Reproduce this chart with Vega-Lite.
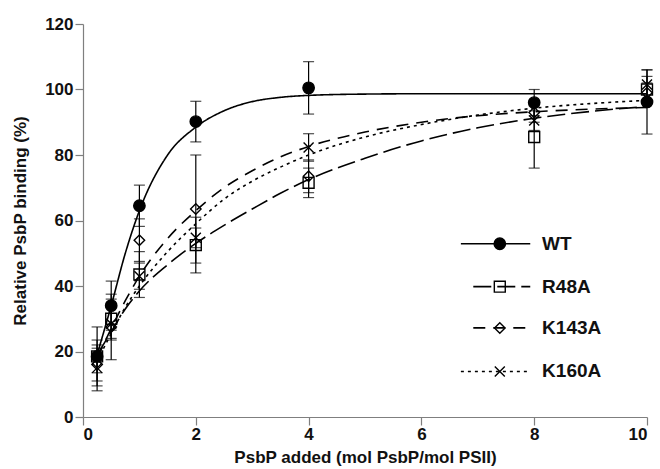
{
  "$schema": "https://vega.github.io/schema/vega-lite/v6.json",
  "width": 564,
  "height": 393,
  "autosize": "none",
  "padding": {"left": 83, "top": 24, "right": 13, "bottom": 52},
  "background": "white",
  "config": {
    "view": {"stroke": null},
    "font": "Liberation Sans",
    "axis": {
      "grid": false,
      "domainColor": "#7f7f7f",
      "tickColor": "#7f7f7f",
      "domainWidth": 1.2,
      "tickWidth": 1.2,
      "tickSize": 8,
      "labelFont": "Liberation Sans",
      "labelFontWeight": "bold",
      "labelFontSize": 17,
      "labelColor": "#111",
      "titleFont": "Liberation Sans",
      "titleFontWeight": "bold",
      "titleFontSize": 17,
      "titleColor": "#111"
    }
  },
  "datasets": {
    "points": [
      {"series": "WT", "x": 0.25, "y": 18.5, "lo": 9.5, "hi": 27.5},
      {"series": "R48A", "x": 0.25, "y": 18.5, "lo": 13.5, "hi": 23.5},
      {"series": "K143A", "x": 0.25, "y": 16, "lo": 11, "hi": 21},
      {"series": "K160A", "x": 0.25, "y": 15, "lo": 8, "hi": 22},
      {"series": "WT", "x": 0.5, "y": 34, "lo": 26.5, "hi": 41.5},
      {"series": "R48A", "x": 0.5, "y": 30, "lo": 24, "hi": 36},
      {"series": "K143A", "x": 0.5, "y": 27.5, "lo": 17.5, "hi": 37.5},
      {"series": "K160A", "x": 0.5, "y": 28.5, "lo": 23.5, "hi": 33.5},
      {"series": "WT", "x": 1, "y": 64.5, "lo": 58.2, "hi": 70.8},
      {"series": "R48A", "x": 1, "y": 43.5, "lo": 36.5, "hi": 50.5},
      {"series": "K143A", "x": 1, "y": 54, "lo": 47.5, "hi": 60.5},
      {"series": "K160A", "x": 1, "y": 43, "lo": 39, "hi": 47},
      {"series": "WT", "x": 2, "y": 90.2, "lo": 84, "hi": 96.4},
      {"series": "R48A", "x": 2, "y": 52.5, "lo": 44, "hi": 61},
      {"series": "K143A", "x": 2, "y": 63.5, "lo": 47, "hi": 80},
      {"series": "K160A", "x": 2, "y": 54.7, "lo": 51.7, "hi": 57.7},
      {"series": "WT", "x": 4, "y": 100.5, "lo": 92.5, "hi": 108.5},
      {"series": "R48A", "x": 4, "y": 71.5, "lo": 67, "hi": 76},
      {"series": "K143A", "x": 4, "y": 73.5, "lo": 68.5, "hi": 78.5},
      {"series": "K160A", "x": 4, "y": 82.3, "lo": 78.1, "hi": 86.5},
      {"series": "WT", "x": 8, "y": 96, "lo": 92, "hi": 100},
      {"series": "R48A", "x": 8, "y": 85.5, "lo": 76, "hi": 95},
      {"series": "K143A", "x": 8, "y": 93, "lo": 90, "hi": 96},
      {"series": "K160A", "x": 8, "y": 90.5, "lo": 87.5, "hi": 93.5},
      {"series": "WT", "x": 10, "y": 96.2, "lo": 86.4, "hi": 106},
      {"series": "R48A", "x": 10, "y": 100, "lo": 96, "hi": 104},
      {"series": "K143A", "x": 10, "y": 99, "lo": 96, "hi": 102},
      {"series": "K160A", "x": 10, "y": 101.5, "lo": 97, "hi": 106}
    ],
    "curves": [
      {"series": "WT", "x": 0.25, "y": 19},
      {"series": "WT", "x": 0.5, "y": 34},
      {"series": "WT", "x": 0.75, "y": 50},
      {"series": "WT", "x": 1, "y": 63},
      {"series": "WT", "x": 1.5, "y": 80},
      {"series": "WT", "x": 2, "y": 88.5},
      {"series": "WT", "x": 2.5, "y": 93.5},
      {"series": "WT", "x": 3, "y": 96.3},
      {"series": "WT", "x": 3.5, "y": 97.6},
      {"series": "WT", "x": 4, "y": 98.2},
      {"series": "WT", "x": 5, "y": 98.6},
      {"series": "WT", "x": 6, "y": 98.7},
      {"series": "WT", "x": 10, "y": 98.7},
      {"series": "R48A", "x": 0.25, "y": 19},
      {"series": "R48A", "x": 0.5, "y": 26},
      {"series": "R48A", "x": 0.75, "y": 33},
      {"series": "R48A", "x": 1, "y": 38.5},
      {"series": "R48A", "x": 1.5, "y": 46.5},
      {"series": "R48A", "x": 2, "y": 53},
      {"series": "R48A", "x": 2.5, "y": 58.5},
      {"series": "R48A", "x": 3, "y": 63.5},
      {"series": "R48A", "x": 3.5, "y": 68.3},
      {"series": "R48A", "x": 4, "y": 72.5},
      {"series": "R48A", "x": 5, "y": 79},
      {"series": "R48A", "x": 6, "y": 84.3},
      {"series": "R48A", "x": 7, "y": 88.3},
      {"series": "R48A", "x": 8, "y": 91.2},
      {"series": "R48A", "x": 9, "y": 93.3},
      {"series": "R48A", "x": 10, "y": 94.8},
      {"series": "K143A", "x": 0.25, "y": 18},
      {"series": "K143A", "x": 0.5, "y": 27},
      {"series": "K143A", "x": 0.75, "y": 35.5},
      {"series": "K143A", "x": 1, "y": 43},
      {"series": "K143A", "x": 1.5, "y": 54.5},
      {"series": "K143A", "x": 2, "y": 63},
      {"series": "K143A", "x": 2.5, "y": 70},
      {"series": "K143A", "x": 3, "y": 75.2},
      {"series": "K143A", "x": 3.5, "y": 79.4},
      {"series": "K143A", "x": 4, "y": 82.6},
      {"series": "K143A", "x": 5, "y": 87},
      {"series": "K143A", "x": 6, "y": 90},
      {"series": "K143A", "x": 7, "y": 92},
      {"series": "K143A", "x": 8, "y": 93.2},
      {"series": "K143A", "x": 9, "y": 94},
      {"series": "K143A", "x": 10, "y": 94.5},
      {"series": "K160A", "x": 0.25, "y": 17},
      {"series": "K160A", "x": 0.5, "y": 25.5},
      {"series": "K160A", "x": 0.75, "y": 33.5},
      {"series": "K160A", "x": 1, "y": 40},
      {"series": "K160A", "x": 1.5, "y": 50.5},
      {"series": "K160A", "x": 2, "y": 59},
      {"series": "K160A", "x": 2.5, "y": 66.5},
      {"series": "K160A", "x": 3, "y": 72},
      {"series": "K160A", "x": 3.5, "y": 76.3},
      {"series": "K160A", "x": 4, "y": 80},
      {"series": "K160A", "x": 5, "y": 85.5},
      {"series": "K160A", "x": 6, "y": 89.3},
      {"series": "K160A", "x": 7, "y": 92.2},
      {"series": "K160A", "x": 8, "y": 94.3},
      {"series": "K160A", "x": 9, "y": 95.7},
      {"series": "K160A", "x": 10, "y": 96.7}
    ],
    "legend": [
      {"series": "WT", "x1": 6.7, "x2": 7.93, "xs": 7.39, "xt": 8.14, "y": 52.9},
      {"series": "R48A", "x1": 6.92, "x2": 7.93, "xs": 7.39, "xt": 8.14, "y": 39.8},
      {"series": "K143A", "x1": 6.92, "x2": 7.93, "xs": 7.39, "xt": 8.14, "y": 27.2},
      {"series": "K160A", "x1": 6.7, "x2": 7.93, "xs": 7.39, "xt": 8.14, "y": 13.9}
    ]
  },
  "layer": [
    {
      "data": {"name": "curves"},
      "mark": {"type": "line", "interpolate": "monotone", "color": "black", "strokeWidth": 1.6},
      "encoding": {
        "x": {"field": "x", "type": "quantitative",
              "scale": {"domain": [0, 10], "nice": false},
              "axis": {"values": [0, 2, 4, 6, 8, 10], "format": "d", "title": "PsbP added (mol PsbP/mol PSII)", "labelPadding": 1, "titlePadding": 7,
                       "encode": {"ticks": {"enter": {"y2": {"value": -9}}, "update": {"y2": {"value": -9}}}}}},
        "y": {"field": "y", "type": "quantitative",
              "scale": {"domain": [0, 120], "nice": false},
              "axis": {"values": [0, 20, 40, 60, 80, 100, 120], "format": "d", "title": "Relative PsbP binding (%)", "labelPadding": 2, "titlePadding": 15,
                       "encode": {"ticks": {"enter": {"x2": {"value": 12}}, "update": {"x2": {"value": 12}}}}}},
        "detail": {"field": "series"},
        "strokeDash": {"field": "series", "type": "nominal", "legend": null,
                       "scale": {"domain": ["WT", "R48A", "K143A", "K160A"], "range": [[1, 0], [18, 6], [12, 8], [3, 4]]}}
      }
    },
    {
      "data": {"name": "points"},
      "mark": {"type": "errorbar", "color": "black", "thickness": 1.2, "ticks": {"size": 11, "color": "black", "thickness": 1.2}},
      "encoding": {
        "x": {"field": "x", "type": "quantitative", "title": "PsbP added (mol PsbP/mol PSII)"},
        "y": {"field": "lo", "type": "quantitative", "title": "Relative PsbP binding (%)"},
        "y2": {"field": "hi"},
        "detail": {"field": "series"}
      }
    },
    {
      "data": {"name": "points"},
      "mark": {"type": "point", "stroke": "black", "strokeWidth": 1.4, "opacity": 1, "filled": false},
      "encoding": {
        "x": {"field": "x", "type": "quantitative"},
        "y": {"field": "y", "type": "quantitative"},
        "shape": {"field": "series", "type": "nominal", "legend": null,
                  "scale": {"domain": ["WT", "R48A", "K143A", "K160A"], "range": ["circle", "square", "diamond", "M-1,-1L1,1M-1,1L1,-1"]}},
        "fill": {"field": "series", "type": "nominal", "legend": null,
                 "scale": {"domain": ["WT", "R48A", "K143A", "K160A"], "range": ["black", "transparent", "transparent", "transparent"]}},
        "size": {"field": "series", "type": "nominal", "legend": null,
                 "scale": {"domain": ["WT", "R48A", "K143A", "K160A"], "range": [130, 100, 110, 90]}}
      }
    },
    {
      "data": {"name": "legend"},
      "mark": {"type": "rule", "color": "black", "strokeWidth": 1.6},
      "encoding": {
        "x": {"field": "x1", "type": "quantitative"},
        "x2": {"field": "x2"},
        "y": {"field": "y", "type": "quantitative"},
        "strokeDash": {"field": "series", "type": "nominal", "legend": null}
      }
    },
    {
      "data": {"name": "legend"},
      "mark": {"type": "point", "stroke": "black", "strokeWidth": 1.4, "opacity": 1, "filled": false},
      "encoding": {
        "x": {"field": "xs", "type": "quantitative"},
        "y": {"field": "y", "type": "quantitative"},
        "shape": {"field": "series", "type": "nominal", "legend": null},
        "fill": {"field": "series", "type": "nominal", "legend": null},
        "size": {"field": "series", "type": "nominal", "legend": null}
      }
    },
    {
      "data": {"name": "legend"},
      "mark": {"type": "text", "align": "left", "baseline": "middle", "font": "Liberation Sans", "fontWeight": "bold", "fontSize": 19, "color": "#111"},
      "encoding": {
        "x": {"field": "xt", "type": "quantitative"},
        "y": {"field": "y", "type": "quantitative"},
        "text": {"field": "series"}
      }
    }
  ]
}
